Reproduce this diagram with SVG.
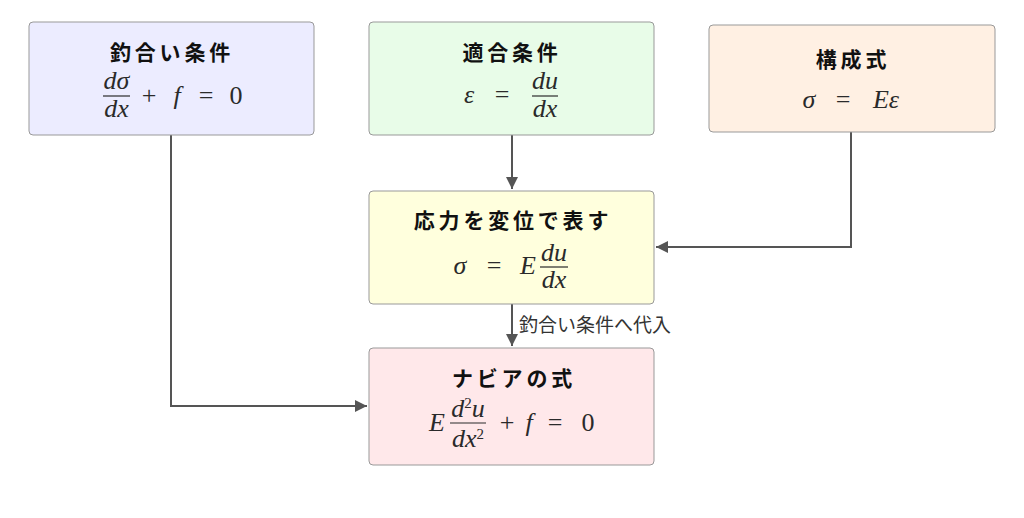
<svg xmlns="http://www.w3.org/2000/svg" width="1024" height="518" viewBox="0 0 1024 518">
<style>
.box{stroke:#999;stroke-width:1}
.t{font-family:"Noto Sans CJK JP","Noto Sans",sans-serif;font-weight:bold;font-size:21px;fill:#111;text-anchor:middle;letter-spacing:3.8px}
.m{font-family:"Liberation Serif","DejaVu Serif",serif;font-style:italic;font-size:26px;fill:#2a2a2a;text-anchor:middle}
.r{font-family:"Liberation Serif","DejaVu Serif",serif;font-style:normal;font-size:26px;fill:#2a2a2a;text-anchor:middle}
.bar{stroke:#2a2a2a;stroke-width:1.2}
.c{fill:none;stroke:#555;stroke-width:2}
.lbl{font-family:"Noto Sans CJK JP","Noto Sans",sans-serif;font-size:19px;fill:#333}
</style>
<defs>
<marker id="ah" viewBox="0 0 10 10" refX="10" refY="5" markerWidth="12" markerHeight="12" markerUnits="userSpaceOnUse" orient="auto"><path d="M0,0L10,5L0,10z" fill="#555"/></marker>
</defs>
<rect width="1024" height="518" fill="#fff"/>
<g id="connectors">
<path class="c" d="M171,135V406H367" marker-end="url(#ah)"/>
<path class="c" d="M512,135V189" marker-end="url(#ah)"/>
<path class="c" d="M851,132V247H656" marker-end="url(#ah)"/>
<path class="c" d="M512,304V346" marker-end="url(#ah)"/>
<text class="lbl" x="519" y="332">釣合い条件へ代入</text>
</g>
<g id="equilibrium">
<rect class="box" x="29" y="22" width="285" height="113" rx="4" fill="#ececff"/>
<text class="t" x="172" y="60">釣合い条件</text>
<text class="m" x="116.5" y="89">dσ</text>
<line class="bar" x1="103" y1="96" x2="130" y2="96"/>
<text class="m" x="116.5" y="117">dx</text>
<text class="r" x="149" y="104">+</text>
<text class="m" x="177" y="104">f</text>
<text class="r" x="206" y="104">=</text>
<text class="r" x="236" y="104">0</text>
</g>
<g id="compatibility">
<rect class="box" x="369" y="22" width="285" height="113" rx="4" fill="#e8fce8"/>
<text class="t" x="512" y="60">適合条件</text>
<text class="m" x="469" y="103">ε</text>
<text class="r" x="502" y="103">=</text>
<text class="m" x="545" y="89">du</text>
<line class="bar" x1="532" y1="96" x2="558" y2="96"/>
<text class="m" x="545" y="117">dx</text>
</g>
<g id="constitutive">
<rect class="box" x="709" y="25" width="286" height="107" rx="4" fill="#fff0e3"/>
<text class="t" x="853" y="67">構成式</text>
<text class="m" x="809" y="108">σ</text>
<text class="r" x="843" y="108">=</text>
<text class="m" x="886" y="108">Eε</text>
</g>
<g id="stress">
<rect class="box" x="369" y="191" width="285" height="113" rx="4" fill="#ffffdd"/>
<text class="t" x="513" y="228">応力を変位で表す</text>
<text class="m" x="460" y="274">σ</text>
<text class="r" x="494" y="274">=</text>
<text class="m" x="528" y="274">E</text>
<text class="m" x="554" y="261">du</text>
<line class="bar" x1="540" y1="267" x2="568" y2="267"/>
<text class="m" x="554" y="288">dx</text>
</g>
<g id="navier">
<rect class="box" x="369" y="348" width="285" height="117" rx="4" fill="#ffe8ea"/>
<text class="t" x="514" y="386">ナビアの式</text>
<text class="m" x="437" y="431">E</text>
<text class="m" x="468" y="417">d<tspan style="font-style:normal;font-size:15px" dy="-9">2</tspan><tspan dy="9">u</tspan></text>
<line class="bar" x1="450" y1="423" x2="486" y2="423"/>
<text class="m" x="468" y="447">dx<tspan style="font-style:normal;font-size:15px" dy="-8">2</tspan></text>
<text class="r" x="507" y="431">+</text>
<text class="m" x="529" y="431">f</text>
<text class="r" x="555" y="431">=</text>
<text class="r" x="588" y="431">0</text>
</g>
</svg>
